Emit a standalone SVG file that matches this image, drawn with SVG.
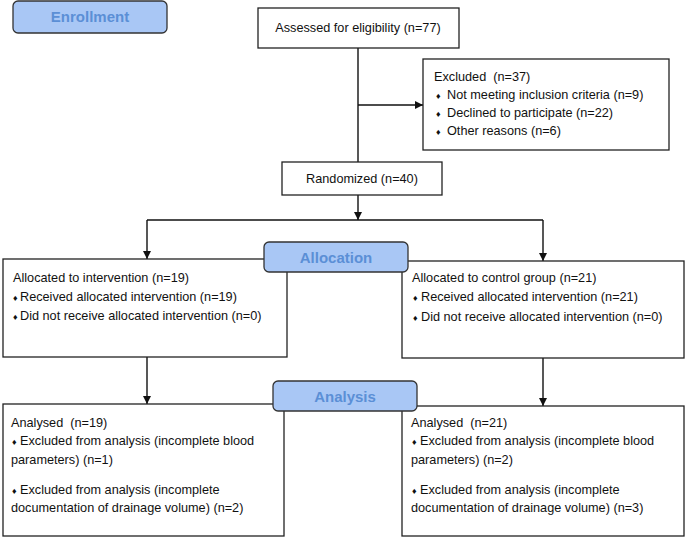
<svg xmlns="http://www.w3.org/2000/svg" width="685" height="537" viewBox="0 0 685 537">
<defs>
<style>
.box{fill:#fff;stroke:#222;stroke-width:1.3}
.lbl{fill:#a9c7f5;stroke:#333;stroke-width:1.3}
.lt{font-family:"Liberation Sans",Arial,sans-serif;font-weight:bold;font-size:15px;fill:#5b8fd6;text-anchor:middle}
.t{font-family:"Liberation Sans",Arial,sans-serif;font-size:12.7px;fill:#111;white-space:pre}
.c{text-anchor:middle}
.b{font-size:9px}
.ln{stroke:#111;stroke-width:1.4;fill:none}
</style>
<marker id="ah" viewBox="0 0 10 10" refX="10" refY="5" markerWidth="8" markerHeight="8" markerUnits="userSpaceOnUse" orient="auto">
<path d="M0,0 L10,5 L0,10 z" fill="#111"/>
</marker>
</defs>
<rect width="685" height="537" fill="#fff"/>

<g id="connectors">
<path class="ln" d="M358,48 V162"/>
<path class="ln" d="M358,105 H423" marker-end="url(#ah)"/>
<path class="ln" d="M358,195 V220" marker-end="url(#ah)"/>
<path class="ln" d="M147,220 H543"/>
<path class="ln" d="M147,220 V259" marker-end="url(#ah)"/>
<path class="ln" d="M543,220 V261" marker-end="url(#ah)"/>
<path class="ln" d="M147,357 V404" marker-end="url(#ah)"/>
<path class="ln" d="M543,358 V406" marker-end="url(#ah)"/>
</g>

<g id="enrollment">
<rect class="lbl" x="13" y="1" width="154" height="32" rx="5"/>
<text class="lt" x="90" y="22">Enrollment</text>
</g>

<g id="assessed">
<rect class="box" x="258" y="8" width="201" height="40"/>
<text class="t c" x="358" y="32">Assessed for eligibility (n=77)</text>
</g>

<g id="excluded">
<rect class="box" x="423" y="59" width="246" height="91"/>
<text class="t" x="434" y="81" xml:space="preserve">Excluded  (n=37)</text>
<text class="t" x="436" y="99"><tspan class="b">♦</tspan><tspan x="447">Not meeting inclusion criteria (n=9)</tspan></text>
<text class="t" x="436" y="117"><tspan class="b">♦</tspan><tspan x="447">Declined to participate (n=22)</tspan></text>
<text class="t" x="436" y="135"><tspan class="b">♦</tspan><tspan x="447">Other reasons (n=6)</tspan></text>
</g>

<g id="randomized">
<rect class="box" x="282" y="162" width="160" height="33"/>
<text class="t c" x="362" y="183">Randomized (n=40)</text>
</g>

<g id="alloc-intervention">
<rect class="box" x="3" y="259" width="284" height="98"/>
<text class="t" x="13" y="282">Allocated to intervention (n=19)</text>
<text class="t" x="13" y="301"><tspan class="b">♦</tspan><tspan x="20">Received allocated intervention (n=19)</tspan></text>
<text class="t" x="13" y="320"><tspan class="b">♦</tspan><tspan x="20">Did not receive allocated intervention (n=0)</tspan></text>
</g>

<g id="alloc-control">
<rect class="box" x="402" y="261" width="282" height="97"/>
<text class="t" x="412" y="282">Allocated to control group (n=21)</text>
<text class="t" x="413" y="301"><tspan class="b">♦</tspan><tspan x="421">Received allocated intervention (n=21)</tspan></text>
<text class="t" x="413" y="321"><tspan class="b">♦</tspan><tspan x="421">Did not receive allocated intervention (n=0)</tspan></text>
</g>

<g id="allocation">
<rect class="lbl" x="264" y="242" width="144" height="30" rx="5"/>
<text class="lt" x="336" y="263">Allocation</text>
</g>

<g id="analysed-intervention">
<rect class="box" x="3" y="404" width="281" height="132"/>
<text class="t" x="11" y="427" xml:space="preserve">Analysed  (n=19)</text>
<text class="t" x="12" y="445"><tspan class="b">♦</tspan><tspan x="20">Excluded from analysis (incomplete blood</tspan></text>
<text class="t" x="11" y="464">parameters) (n=1)</text>
<text class="t" x="12" y="494"><tspan class="b">♦</tspan><tspan x="20">Excluded from analysis (incomplete</tspan></text>
<text class="t" x="11" y="512">documentation of drainage volume) (n=2)</text>
</g>

<g id="analysed-control">
<rect class="box" x="402" y="406" width="282" height="130"/>
<text class="t" x="411" y="427" xml:space="preserve">Analysed  (n=21)</text>
<text class="t" x="412" y="445"><tspan class="b">♦</tspan><tspan x="420">Excluded from analysis (incomplete blood</tspan></text>
<text class="t" x="411" y="464">parameters) (n=2)</text>
<text class="t" x="412" y="494"><tspan class="b">♦</tspan><tspan x="420">Excluded from analysis (incomplete</tspan></text>
<text class="t" x="411" y="512">documentation of drainage volume) (n=3)</text>
</g>

<g id="analysis">
<rect class="lbl" x="273" y="381" width="144" height="30" rx="5"/>
<text class="lt" x="345" y="402">Analysis</text>
</g>
</svg>
